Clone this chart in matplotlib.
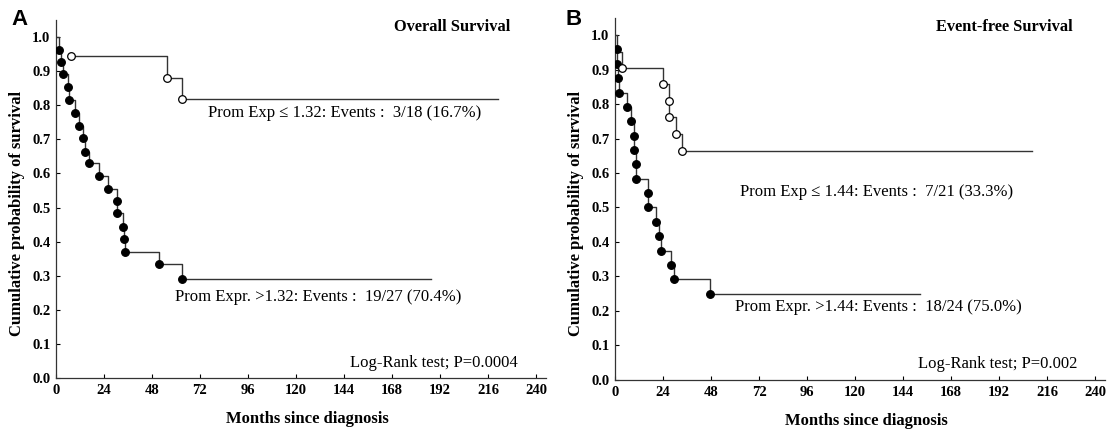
import matplotlib; matplotlib.use('Agg')
import matplotlib.pyplot as plt
import numpy as np

plt.rcParams['font.family'] = ['Liberation Serif', 'DejaVu Serif']

# ---- Panel A: Overall survival ----
a_low_t = [7.5, 55.5, 63.0]
a_low_s = [0.944, 0.881, 0.818]
a_low_end = 221
a_high_t = [1.5, 2.5, 3.3, 6.2, 6.5, 9.7, 11.3, 13.7, 14.7, 16.7, 21.5, 25.8,
            30.7, 30.7, 33.7, 34.0, 34.5, 51.7, 62.8]
a_high_s = [0.962, 0.928, 0.891, 0.853, 0.815, 0.778, 0.740, 0.705, 0.664,
            0.630, 0.592, 0.554, 0.518, 0.484, 0.444, 0.407, 0.369, 0.333, 0.290]
a_high_end = 187.5

# ---- Panel B: Event-free survival ----
b_low_t = [3.5, 23.8, 27.2, 27.2, 30.5, 33.7]
b_low_s = [0.905, 0.857, 0.809, 0.761, 0.713, 0.665]
b_low_start = 0.952
b_low_end = 208.5
b_high_t = [1.0, 1.2, 1.7, 2.2, 5.8, 8.0, 9.5, 9.7, 10.3, 10.5, 16.7, 16.7,
            20.3, 22.2, 23.0, 28.0, 29.7, 47.5]
b_high_s = [0.958, 0.917, 0.875, 0.833, 0.792, 0.750, 0.708, 0.667, 0.625,
            0.583, 0.542, 0.500, 0.458, 0.417, 0.375, 0.333, 0.292, 0.250]
b_high_end = 152.5

xticks = np.arange(0, 241, 24)
yticks = np.round(np.arange(0, 1.01, 0.1), 1)


def km(ax, t, s, end, x0, y0, filled):
    xs = [x0] + list(t) + [end]
    ys = [y0] + list(s) + [s[-1]]
    ax.step(xs, ys, where='post', color='#333333', lw=1.0)
    ax.plot(t, s, 'o', ms=5.5, mew=0.9, mec='black',
            mfc='black' if filled else 'white', zorder=4)


def style(ax):
    for sp in ['top', 'right']:
        ax.spines[sp].set_visible(False)
    for sp in ['left', 'bottom']:
        ax.spines[sp].set_linewidth(0.9)
        ax.spines[sp].set_color('#333333')
    ax.set_xlim(0, 245)
    ax.set_ylim(0, 1.05)
    ax.set_xticks(xticks)
    ax.set_yticks(yticks)
    ax.set_yticklabels([f'{v:.1f}' for v in yticks])
    ax.tick_params(direction='in', length=3, width=0.8, pad=4)
    for lab in ax.get_xticklabels() + ax.get_yticklabels():
        lab.set_fontweight('bold')
        lab.set_fontsize(10.5)
    ax.set_xlabel('Months since diagnosis', fontsize=12, fontweight='bold')
    ax.xaxis.set_label_coords(0.513, -0.092, transform=ax.transAxes)
    ax.xaxis.label.set_va('top')
    ax.set_ylabel('Cumulative probability of survival', fontsize=12,
                  fontweight='bold')
    ax.yaxis.set_label_coords(-0.064, 0.46)


fig = plt.figure(figsize=(11.17, 4.3), dpi=100)
axA = fig.add_axes([0.0501, 0.1209, 0.4387, 0.8327])
axB = fig.add_axes([0.5506, 0.1163, 0.4387, 0.8424])

km(axA, a_high_t, a_high_s, a_high_end, 0, 1.0, True)
km(axA, a_low_t, a_low_s, a_low_end, a_low_t[0], a_low_s[0], False)
style(axA)
axA.text(227, 1.03, 'Overall Survival', ha='right', va='center', fontsize=11.8, fontweight='bold')
axA.text(76, 0.777, 'Prom Exp \u2264 1.32: Events :  3/18 (16.7%)', va='center', fontsize=12)
axA.text(59.5, 0.238, 'Prom Expr. >1.32: Events :  19/27 (70.4%)', va='center', fontsize=12)
axA.text(231, 0.044, 'Log-Rank test; P=0.0004', ha='right', va='center', fontsize=12)

km(axB, b_high_t, b_high_s, b_high_end, 0, 1.0, True)
km(axB, b_low_t, b_low_s, b_low_end, 0, b_low_start, False)
style(axB)
axB.text(229, 1.023, 'Event-free Survival', ha='right', va='center', fontsize=11.8, fontweight='bold')
axB.text(62.5, 0.545, 'Prom Exp \u2264 1.44: Events :  7/21 (33.3%)', va='center', fontsize=12)
axB.text(60, 0.212, 'Prom Expr. >1.44: Events :  18/24 (75.0%)', va='center', fontsize=12)
axB.text(231, 0.046, 'Log-Rank test; P=0.002', ha='right', va='center', fontsize=12)

fig.text(0.010, 0.955, 'A', fontsize=16, fontweight='bold', family='Liberation Sans', va='center')
fig.text(0.506, 0.955, 'B', fontsize=16, fontweight='bold', family='Liberation Sans', va='center')

fig.savefig('out.png', dpi=100)
